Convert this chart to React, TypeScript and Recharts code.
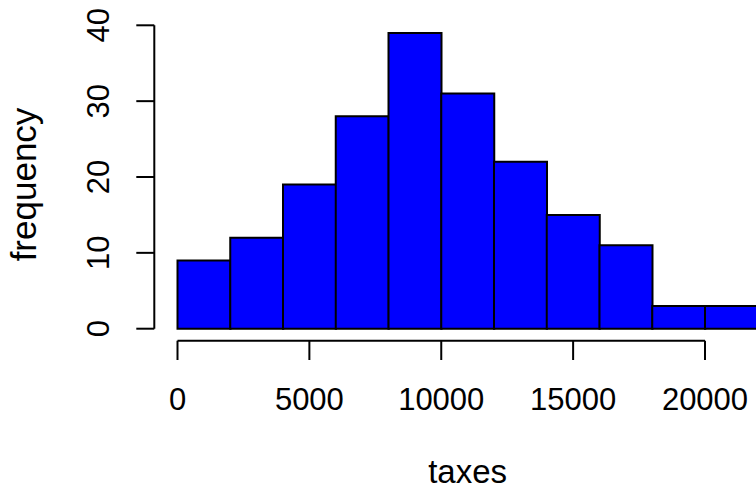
import React from 'react';
import { BarChart, Bar, XAxis, YAxis } from 'recharts';

const bins = [
  '0-2000', '2000-4000', '4000-6000', '6000-8000', '8000-10000', '10000-12000',
  '12000-14000', '14000-16000', '16000-18000', '18000-20000', '20000-22000',
];
const binStarts = [0, 2000, 4000, 6000, 8000, 10000, 12000, 14000, 16000, 18000, 20000];
const counts = [9, 12, 19, 28, 39, 31, 22, 15, 11, 3, 3];
const xTicks = [0, 5000, 10000, 15000, 20000];
const yTicks = [0, 10, 20, 30, 40];
const xTitle = 'taxes';
const yTitle = 'frequency';

const data = bins.map((bin, i) => ({ bin, start: binStarts[i], count: counts[i] }));

const FONT = '"Liberation Sans", Arial, Helvetica, sans-serif';
const FS = 31;
const TFS = 33;
const YTFS = 35;

const XTick = (props: any) => {
  const { x, y, payload } = props;
  return (
    <text x={x} y={y + 50} textAnchor="middle" fontSize={FS} fontFamily={FONT} fill="#000">
      {payload.value}
    </text>
  );
};

const YTick = (props: any) => {
  const { x, y, payload } = props;
  const bx = x - 27.3;
  return (
    <text x={bx} y={y} transform={`rotate(-90, ${bx}, ${y})`} textAnchor="middle" fontSize={FS} fontFamily={FONT} fill="#000">
      {payload.value}
    </text>
  );
};

const XTitle = (props: any) => {
  const vb = props.viewBox || { x: 177.5, y: 340.7, width: 527.5, height: 149.3 };
  return (
    <text x={vb.x + vb.width / 2 + 26.4} y={vb.y + 142.3} textAnchor="middle" fontSize={TFS} fontFamily={FONT} fill="#000">
      {xTitle}
    </text>
  );
};

const YTitle = (props: any) => {
  const vb = props.viewBox || { x: 0, y: 25.3, width: 154.3, height: 303.4 };
  const bx = vb.x + 36;
  const cy = vb.y + vb.height / 2 + 7.5;
  return (
    <text x={bx} y={cy} transform={`rotate(-90, ${bx}, ${cy})`} textAnchor="middle" fontSize={YTFS} fontFamily={FONT} fill="#000">
      {yTitle}
    </text>
  );
};

export default function App() {
  return (
    <div style={{ position: 'absolute', left: 0, top: 0, width: 756, height: 490, background: '#fff' }}>
      <BarChart
        width={756}
        height={490}
        data={data}
        margin={{ top: 25.3, right: 51, bottom: 0, left: 0 }}
        barCategoryGap={0}
        barGap={0}
      >
        <XAxis
          xAxisId="bars"
          dataKey="bin"
          type="category"
          height={12}
          padding={{ left: 0, right: -52.75 }}
          tick={false}
          axisLine={false}
          tickLine={false}
        />
        <XAxis
          xAxisId="disp"
          dataKey="start"
          type="number"
          domain={[0, 20000]}
          ticks={xTicks}
          interval={0}
          allowDataOverflow
          height={149.3}
          tickSize={19.3}
          tickMargin={0}
          tick={<XTick />}
          axisLine={{ stroke: '#000', strokeWidth: 2 }}
          tickLine={{ stroke: '#000', strokeWidth: 2 }}
          label={<XTitle />}
        />
        <YAxis
          yAxisId="bars"
          type="number"
          domain={[0, 40]}
          width={23.2}
          tick={false}
          axisLine={false}
          tickLine={false}
        />
        <YAxis
          yAxisId="disp"
          type="number"
          domain={[0, 40]}
          ticks={yTicks}
          interval={0}
          allowDataOverflow
          width={154.3}
          tickSize={18}
          tickMargin={0}
          tick={<YTick />}
          axisLine={{ stroke: '#000', strokeWidth: 2 }}
          tickLine={{ stroke: '#000', strokeWidth: 2 }}
          label={<YTitle />}
        />
        <Bar
          dataKey="count"
          xAxisId="bars"
          yAxisId="bars"
          fill="#0000ff"
          stroke="#000"
          strokeWidth={2}
          isAnimationActive={false}
        />
      </BarChart>
    </div>
  );
}
